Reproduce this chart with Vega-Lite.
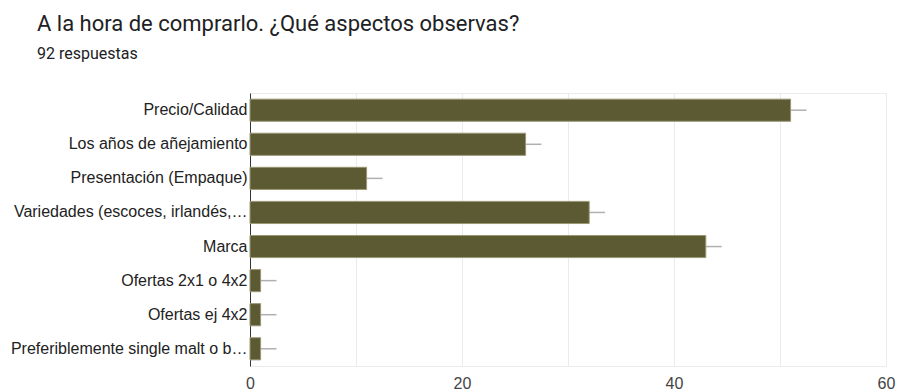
{
  "$schema": "https://vega.github.io/schema/vega-lite/v6.json",
  "autosize": "none",
  "width": 636,
  "height": 273,
  "padding": {"left": 250, "top": 93, "right": 11, "bottom": 24},
  "background": "white",
  "title": {
    "text": "A la hora de comprarlo. ¿Qué aspectos observas?",
    "subtitle": "92 respuestas",
    "anchor": "start",
    "frame": "group",
    "dx": -213,
    "offset": 30,
    "font": "Roboto",
    "fontSize": 22,
    "fontWeight": "normal",
    "color": "#202124",
    "subtitleFont": "Roboto",
    "subtitleFontSize": 16,
    "subtitleColor": "#202124",
    "subtitlePadding": 10
  },
  "config": {
    "view": {"stroke": "#ebebeb", "strokeWidth": 1},
    "font": "Liberation Sans"
  },
  "data": {
    "values": [
      {"label": "Precio/Calidad", "value": 51, "hi": 52.5},
      {"label": "Los años de añejamiento", "value": 26, "hi": 27.5},
      {"label": "Presentación (Empaque)", "value": 11, "hi": 12.5},
      {"label": "Variedades (escoces, irlandés,…", "value": 32, "hi": 33.5},
      {"label": "Marca", "value": 43, "hi": 44.5},
      {"label": "Ofertas 2x1 o 4x2", "value": 1, "hi": 2.5},
      {"label": "Ofertas ej 4x2", "value": 1, "hi": 2.5},
      {"label": "Preferiblemente single malt o b…", "value": 1, "hi": 2.5}
    ]
  },
  "encoding": {
    "y": {
      "field": "label",
      "type": "nominal",
      "sort": null,
      "title": null,
      "scale": {"paddingInner": 0.35, "paddingOuter": 0.18},
      "axis": {
        "ticks": false,
        "domainColor": "#333333",
        "domainWidth": 1,
        "labelFont": "Liberation Sans",
        "labelFontSize": 16,
        "labelColor": "#222222",
        "labelPadding": 3,
        "labelLimit": 300,
        "grid": false
      }
    }
  },
  "layer": [
    {
      "mark": {"type": "rule", "color": "#b0b0b0", "strokeWidth": 1.5},
      "encoding": {
        "x": {"field": "value", "type": "quantitative"},
        "x2": {"field": "hi"}
      }
    },
    {
      "mark": {"type": "bar", "fill": "#5c5a33", "stroke": "#9a9775", "strokeWidth": 1},
      "encoding": {
        "x": {
          "field": "value",
          "type": "quantitative",
          "title": null,
          "scale": {"domain": [0, 60], "nice": false},
          "axis": {
            "values": [0, 10, 20, 30, 40, 50, 60],
            "labelExpr": "datum.value % 20 == 0 ? datum.label : ''",
            "domain": false,
            "ticks": false,
            "grid": true,
            "gridColor": "#ebebeb",
            "labelFont": "Liberation Sans",
            "labelFontSize": 16,
            "labelColor": "#444444",
            "labelPadding": 9,
            "labelFlush": false
          }
        }
      }
    }
  ]
}
